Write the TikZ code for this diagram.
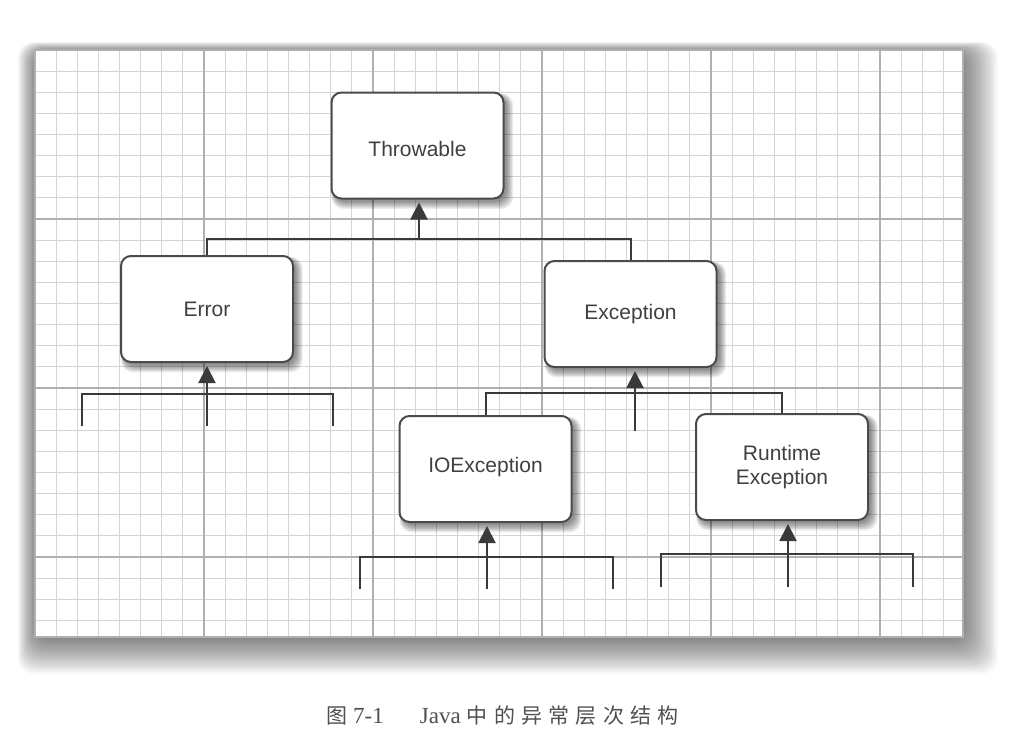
\documentclass[tikz,border=0pt]{standalone}
\usepackage{fontspec}
\setmainfont{Liberation Serif}
\newfontfamily\boxfont{Liberation Sans}
\newfontfamily\cjk{Noto Sans CJK SC}
\newfontfamily\cjkcap[LetterSpace=30]{Noto Sans CJK SC}
\usetikzlibrary{arrows.meta,calc}
\pgfdeclarelayer{bg}
\pgfsetlayers{bg,main}
\definecolor{gridminor}{HTML}{D4D4D4}
\definecolor{gridmajor}{HTML}{B0B0B0}
\definecolor{ink}{HTML}{3A3A3A}
\definecolor{boxline}{HTML}{4A4A4A}
\definecolor{txt}{HTML}{404040}
\definecolor{captxt}{HTML}{505050}
\tikzset{
  umlbox/.style={draw=boxline, line width=2pt, rounded corners=10pt, fill=white,
    minimum width=172pt, minimum height=106pt, inner sep=2pt, align=center,
    font=\boxfont\fontsize{21}{24}\selectfont, text=txt},
  conn/.style={draw=ink, line width=2pt},
  inherit/.style={conn, -{Triangle[width=17pt,length=17pt]}, shorten >=3pt},
  minorline/.style={draw=gridminor, line width=1.1pt},
  majorline/.style={draw=gridmajor, line width=1.5pt},
}
\newcommand\boxshade[1]{%
  \foreach \s in {1,...,7}{%
    \fill[black,opacity=0.075,rounded corners=12pt]
      ($(#1.north west)+(4-\s*0.4,4-\s*0.3)$) rectangle ($(#1.south east)+(1+\s*1.1,1+\s*1.2)$);
  }}
\begin{document}
\begin{tikzpicture}[x=1pt,y=-1pt]
\useasboundingbox (0,0) rectangle (1016,745);

\begin{pgfonlayer}{bg}
\fill[white] (0,0) rectangle (1016,745);
% panel shadow
\foreach \s in {1,...,20}{%
  \fill[black,opacity=0.028,rounded corners=16pt]
    ({36-\s*0.9},{51-\s*0.45}) rectangle ({962+\s*1.8},{638+\s*1.8});
}
% panel
\fill[white] (35,50) rectangle (963,637);
\foreach \k in {0,...,43}{\draw[minorline] ({35+\k*21.125},50) -- ({35+\k*21.125},637);}
\foreach \k in {0,...,27}{\draw[minorline] (35,{50+\k*21.125}) -- (963,{50+\k*21.125});}
\foreach \m in {1,...,5}{\draw[majorline] ({35+\m*169},50) -- ({35+\m*169},637);}
\foreach \m in {1,...,3}{\draw[majorline] (35,{50+\m*169}) -- (963,{50+\m*169});}
\draw[majorline] (35,50) rectangle (963,637);
\end{pgfonlayer}

% boxes
\node[umlbox] (thr) at (417.5,145.5) {\raisebox{-11pt}[0pt][0pt]{Throwable}};
\node[umlbox] (err) at (207,309) {Error};
\node[umlbox] (exc) at (630.5,314) {Exception};
\node[umlbox] (ioe) at (485.5,469) {\raisebox{-3pt}[0pt][0pt]{IOException}};
\node[umlbox] (rte) at (782,467) {Runtime\\Exception};

\begin{pgfonlayer}{bg}
\boxshade{thr}\boxshade{err}\boxshade{exc}\boxshade{ioe}\boxshade{rte}
\end{pgfonlayer}

% Throwable <- Error, Exception
\coordinate (b1) at (419,239);
\draw[conn] (err.north) |- (b1) -| (exc.north);
\draw[inherit] (b1) -- (thr.south -| b1);

% Error <- (subclasses)
\coordinate (e0) at (207,426);
\coordinate (eL) at (82,426);
\coordinate (eR) at (333,426);
\draw[conn] (eL) -- ++(0,-32) -| (eR);
\draw[inherit] (e0) -- (err.south -| e0);

% Exception <- IOException, Runtime Exception
\coordinate (x0) at (635,431);
\coordinate (b3) at (635,393);
\draw[conn] (ioe.north) |- (b3) -| (rte.north);
\draw[inherit] (x0) -- (exc.south -| x0);

% IOException <- (subclasses)
\coordinate (i0) at (487,589);
\coordinate (iL) at (360,589);
\coordinate (iR) at (613,589);
\draw[conn] (iL) -- ++(0,-32) -| (iR);
\draw[inherit] (i0) -- (ioe.south -| i0);

% Runtime Exception <- (subclasses)
\coordinate (r0) at (788,587);
\coordinate (rL) at (661,587);
\coordinate (rR) at (913,587);
\draw[conn] (rL) -- ++(0,-33) -| (rR);
\draw[inherit] (r0) -- (rte.south -| r0);

% caption
\node[anchor=base west, inner sep=0pt, text=captxt, font=\fontsize{23}{26}\selectfont] (cap) at (326,723)
  {{\cjk\fontsize{21}{24}\selectfont 图}\hspace{6pt}7-1\hspace{36pt}Java\hspace{6pt}{\cjkcap\fontsize{21}{24}\selectfont 中的异常层次结构}};
\end{tikzpicture}
\end{document}
